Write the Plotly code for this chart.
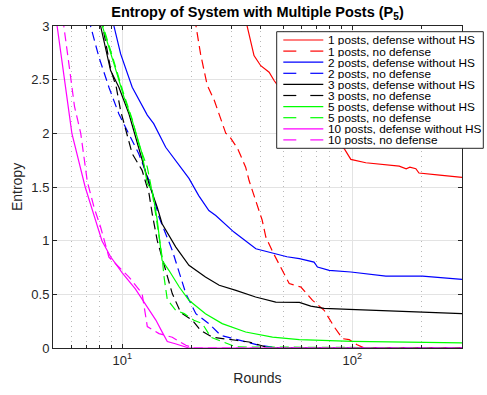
import plotly.graph_objects as go

# ---- Entropy curves (rounds on a log axis) ----
# 1 post
rounds_1_def = [33.5, 34.9, 37.4, 40.0, 43.5, 45.8, 52, 60, 70, 80, 92.3, 98.6, 114.5, 160, 171.6, 178, 189, 195, 240, 300]
entropy_1_def = [3.25, 3.0, 2.725, 2.63, 2.57, 2.49, 2.33, 2.18, 2.05, 1.95, 1.857, 1.757, 1.726, 1.695, 1.67, 1.685, 1.67, 1.63, 1.61, 1.59]
rounds_1_nodef = [20.2, 20.9, 21.9, 23.4, 25.1, 28.2, 29.1, 31.7, 34.4, 35.6, 40.6, 42.1, 45.5, 53.2, 59.8, 67.2, 75.5, 83.5, 90.8, 97, 105, 112.8, 300]
entropy_1_nodef = [3.2, 3.0, 2.74, 2.45, 2.31, 2.0, 1.98, 1.86, 1.685, 1.56, 1.19, 1.033, 0.879, 0.60, 0.568, 0.444, 0.351, 0.196, 0.087, 0.078, 0.03, 0.0, 0.0]

# 2 posts
rounds_2_def = [8.9, 9.2, 9.84, 11.05, 12.85, 13.7, 15.45, 17.95, 19.5, 21.5, 23.8, 25.5, 30.6, 38.1, 46.5, 52, 58.9, 68.2, 70.6, 79.4, 98.6, 140, 202, 300]
entropy_2_def = [3.2, 3.0, 2.74, 2.43, 2.17, 2.09, 1.87, 1.685, 1.58, 1.42, 1.28, 1.235, 1.08, 0.925, 0.879, 0.85, 0.832, 0.80, 0.754, 0.723, 0.708, 0.67, 0.67, 0.64]
rounds_2_nodef = [7.0, 7.28, 7.92, 8.75, 9.67, 10.5, 11.8, 13.07, 14.45, 16.5, 18.9, 20.9, 23.8, 26.8, 32.2, 39.4, 48, 300]
entropy_2_nodef = [3.2, 3.0, 2.71, 2.43, 2.18, 2.03, 1.81, 1.56, 1.22, 0.91, 0.507, 0.32, 0.227, 0.118, 0.072, 0.025, 0.0, 0.0]

# 3 posts
rounds_3_def = [7.8, 8.05, 8.9, 9.67, 10.7, 11.8, 13.07, 14.2, 14.9, 17.1, 19.5, 23.0, 26.4, 31.2, 38.0, 46.5, 58.9, 66, 75.5, 97, 135, 202, 300]
entropy_3_def = [3.2, 3.0, 2.585, 2.43, 2.18, 1.87, 1.53, 1.31, 1.158, 0.94, 0.77, 0.661, 0.584, 0.537, 0.475, 0.428, 0.425, 0.39, 0.37, 0.36, 0.351, 0.335, 0.32]
rounds_3_nodef = [7.9, 8.2, 8.9, 9.42, 9.84, 11.05, 12.2, 13.07, 13.5, 14.2, 15.45, 16.5, 17.95, 19.2, 20.2, 21.9, 24.7, 31.2, 35.6, 42.1, 46, 300]
entropy_3_nodef = [3.2, 3.0, 2.6, 2.43, 2.21, 1.81, 1.655, 1.44, 1.25, 1.0, 0.72, 0.507, 0.33, 0.29, 0.258, 0.165, 0.10, 0.072, 0.056, 0.01, 0.0, 0.0]

# 5 posts
rounds_5_def = [8.0, 8.19, 9.2, 10.17, 11.05, 12.2, 12.85, 13.5, 14.2, 14.7, 14.9, 15.95, 17.7, 19.5, 23.0, 27.2, 34.4, 45.0, 58.9, 100, 300]
entropy_5_def = [3.2, 3.0, 2.65, 2.34, 2.12, 1.81, 1.53, 1.468, 1.19, 0.94, 0.817, 0.724, 0.568, 0.444, 0.32, 0.227, 0.149, 0.102, 0.078, 0.062, 0.047]
rounds_5_nodef = [8.0, 8.25, 9.2, 10.17, 11.05, 11.8, 12.85, 13.5, 14.2, 14.9, 15.2, 15.7, 17.1, 18.6, 20.5, 22.3, 24.3, 26.4, 31.2, 300]
entropy_5_nodef = [3.2, 3.0, 2.67, 2.36, 2.13, 1.90, 1.685, 1.45, 1.15, 0.85, 0.661, 0.45, 0.351, 0.32, 0.258, 0.227, 0.10, 0.072, 0.01, 0.0]

# 10 posts
rounds_10_def = [5.1, 5.21, 5.61, 6.04, 6.9, 8.16, 8.9, 10, 11.4, 12.6, 14.0, 14.9, 15.7, 17.0, 19.5, 300]
entropy_10_def = [3.2, 3.0, 2.5, 2.0, 1.5, 1.0, 0.85, 0.70, 0.55, 0.41, 0.26, 0.15, 0.06, 0.04, 0.0, 0.0]
rounds_10_nodef = [5.45, 5.57, 5.86, 6.2, 6.6, 7.05, 7.54, 8.05, 8.75, 10.7, 12.2, 12.85, 14.45, 16.5, 18.9, 20.5, 300]
entropy_10_nodef = [3.2, 3.0, 2.65, 2.25, 2.0, 1.55, 1.31, 1.127, 0.847, 0.661, 0.507, 0.2, 0.134, 0.10, 0.025, 0.0, 0.0]

labels = [
    "1 posts, defense without HS", "1 posts, no defense",
    "2 posts, defense without HS", "2 posts, no defense",
    "3 posts, defense without HS", "3 posts, no defense",
    "5 posts, defense without HS", "5 posts, no defense",
    "10 posts, defense without HS", "10 posts, no defense",
]
x_data = [rounds_1_def, rounds_1_nodef, rounds_2_def, rounds_2_nodef, rounds_3_def,
          rounds_3_nodef, rounds_5_def, rounds_5_nodef, rounds_10_def, rounds_10_nodef]
y_data = [entropy_1_def, entropy_1_nodef, entropy_2_def, entropy_2_nodef, entropy_3_def,
          entropy_3_nodef, entropy_5_def, entropy_5_nodef, entropy_10_def, entropy_10_nodef]

colors = ["#ff0000", "#ff0000", "#0000ff", "#0000ff", "#000000",
          "#000000", "#00ff00", "#00ff00", "#ff00ff", "#ff00ff"]
dashes = ["solid", "9px,5px"] * 5

FONT = "Liberation Sans, Arial, Helvetica, sans-serif"
INK = "#262626"

fig = go.Figure()
for lab, xs, ys, c, d in zip(labels, x_data, y_data, colors, dashes):
    fig.add_trace(go.Scatter(x=xs, y=ys, mode="lines", name=lab, showlegend=False,
                             line=dict(color=c, width=1.2, dash=d)))

# ---- layout geometry ----
W, H = 487, 395
ML, MR, MT, MB = 53, 25, 26, 47
PW, PH = W - ML - MR, H - MT - MB


def px_x(px):
    return (px - ML) / PW


def px_y(py):
    return (H - MB - py) / PH


minor_vals = [6, 7, 8, 9, 20, 30, 40, 50, 60, 70, 80, 90, 200, 300]

fig.update_layout(
    width=W, height=H,
    margin=dict(l=ML, r=MR, t=MT, b=MB),
    paper_bgcolor="white", plot_bgcolor="white",
    font=dict(family=FONT, color=INK, size=13),
    title=dict(text="<b>Entropy of System with Multiple Posts (P<sub>5</sub>)</b>",
               x=px_x(257.5), xref="paper", xanchor="center",
               y=1 - 12 / H, yref="container", yanchor="middle",
               font=dict(size=14.5, color="#000000", family=FONT)),
    xaxis=dict(
        type="log", range=[0.69897, 2.4771],
        tickmode="array", tickvals=[10, 100], ticktext=["10<sup>1</sup>", "10<sup>2</sup>"],
        ticks="inside", ticklen=4, tickcolor=INK, tickwidth=1,
        showline=True, linecolor=INK, linewidth=1, mirror="ticks",
        showgrid=True, gridcolor="#e3e3e3", gridwidth=1,
        zeroline=False,
        tickfont=dict(size=13, color=INK),
        minor=dict(tickmode="array", tickvals=minor_vals, ticks="inside", ticklen=3,
                   tickcolor=INK, showgrid=True, gridcolor="#b8b8b8",
                   griddash="1px,4px", gridwidth=1),
        title=dict(text="Rounds", font=dict(size=14, color=INK), standoff=6),
    ),
    yaxis=dict(
        range=[0, 3], tickmode="linear", tick0=0, dtick=0.5,
        ticks="inside", ticklen=4, tickcolor=INK, tickwidth=1,
        showline=True, linecolor=INK, linewidth=1, mirror="ticks",
        showgrid=True, gridcolor="#e3e3e3", gridwidth=1,
        zeroline=False,
        tickfont=dict(size=13, color=INK),
        title=dict(text="Entropy", font=dict(size=14, color=INK), standoff=5),
    ),
)

# ---- legend box drawn on top of the axes ----
box_l, box_r, box_t, box_b = 276.7, 483.3, 31.7, 148.3
shapes = [dict(type="rect", xref="paper", yref="paper", layer="above",
               x0=px_x(box_l), x1=px_x(box_r), y0=px_y(box_b), y1=px_y(box_t),
               line=dict(color=INK, width=1), fillcolor="white")]
annotations = []
row0, row_step = 40.0, 11.1
s0, s1, text_x = 283.3, 323.3, 327.3
for i, (lab, c, d) in enumerate(zip(labels, colors, dashes)):
    yy = px_y(row0 + i * row_step)
    if d == "solid":
        segs = [(s0, s1)]
    else:
        segs = [(s0, s0 + 13), (s1 - 13, s1)]
    for a, b in segs:
        shapes.append(dict(type="line", xref="paper", yref="paper", layer="above",
                           x0=px_x(a), x1=px_x(b), y0=yy, y1=yy,
                           line=dict(color=c, width=1.2)))
    annotations.append(dict(text=lab, xref="paper", yref="paper", x=px_x(text_x), y=yy,
                            xanchor="left", yanchor="middle", showarrow=False,
                            height=11, valign="middle", borderpad=0,
                            font=dict(size=11.8, color="#000000", family=FONT)))

fig.update_layout(shapes=shapes, annotations=annotations)

fig.write_html("out.html")
